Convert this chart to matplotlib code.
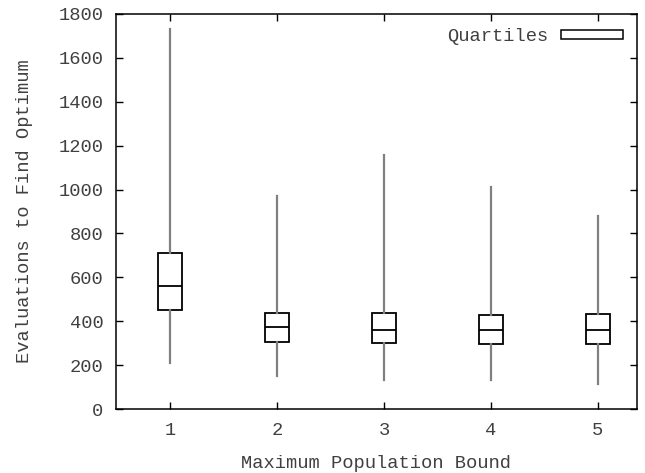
import matplotlib
matplotlib.use("Agg")
import matplotlib.pyplot as plt
from matplotlib.patches import Rectangle

categories = [1, 2, 3, 4, 5]
whisker_low = [211, 150, 132, 132, 114]
q1 = [453, 305, 299, 296, 296]
median = [559, 374, 359, 360, 360]
q3 = [709, 437, 437, 428, 433]
whisker_high = [1730, 971, 1158, 1012, 880]
yticks = [0, 200, 400, 600, 800, 1000, 1200, 1400, 1600, 1800]

plt.rcParams['font.family'] = ['Liberation Mono', 'DejaVu Sans Mono']
txt = '#404040'
fs = 13.5

fig = plt.figure(figsize=(6.45, 4.73), dpi=100)
ax = fig.add_axes([116/645, 64/473, 521/645, 395/473])

stats = []
for i, c in enumerate(categories):
    stats.append(dict(med=median[i], q1=q1[i], q3=q3[i],
                      whislo=whisker_low[i], whishi=whisker_high[i],
                      fliers=[], label=str(c)))

ax.bxp(stats, positions=categories, widths=0.22, showcaps=False,
       showfliers=False, patch_artist=True,
       boxprops=dict(facecolor='white', edgecolor='black', linewidth=1.3),
       medianprops=dict(color='black', linewidth=1.3),
       whiskerprops=dict(color='#808080', linewidth=1.6))

ax.set_xlim(0.495, 5.365)
ax.set_ylim(0, 1800)
ax.set_yticks(yticks)
ax.set_xticks(categories)
ax.set_xticklabels([str(c) for c in categories])
ax.tick_params(direction='in', top=True, right=True, length=5,
               labelsize=fs, labelcolor=txt, pad=9, width=1)
for s in ax.spines.values():
    s.set_linewidth(1.1)

ax.set_xlabel('Maximum Population Bound', fontsize=fs, color=txt, labelpad=12)
ax.set_ylabel('Evaluations to Find Optimum', fontsize=fs, color=txt, labelpad=18)

h = Rectangle((0, 0), 1, 1, facecolor='white', edgecolor='black', linewidth=1.1)
leg = ax.legend([h], ['Quartiles'], loc='upper right', frameon=False,
                markerfirst=False, fontsize=fs, handlelength=3.3,
                handleheight=0.35, borderaxespad=0.35, handletextpad=0.7)
for t in leg.get_texts():
    t.set_color(txt)

fig.savefig('out.png', dpi=100)
